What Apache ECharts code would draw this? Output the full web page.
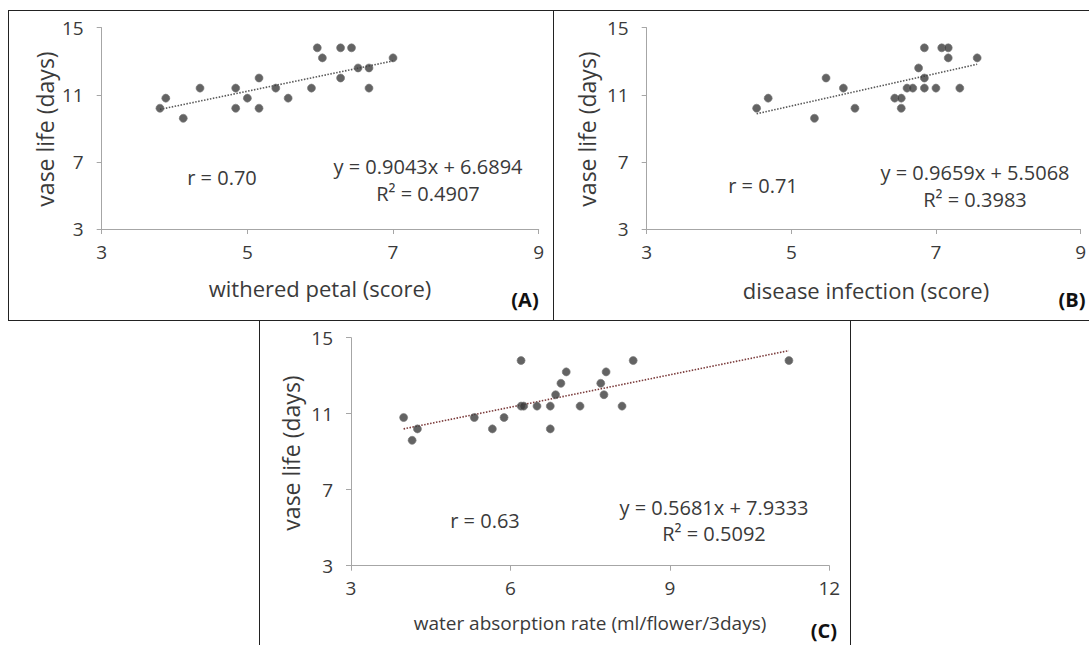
<!DOCTYPE html>
<html>
<head>
<meta charset="utf-8">
<script src="https://cdn.jsdelivr.net/npm/echarts@6/dist/echarts.min.js"></script>
<style>
html,body{margin:0;padding:0;background:#fff;}
#c{width:1089px;height:645px;}
</style>
</head>
<body>
<div id="c"></div>
<script>
// ---- Data ----
// Panel A: withered petal (score) vs vase life (days)
const aX = [3.80,3.88,4.12,4.35,4.84,4.84,5.00,5.16,5.16,5.39,5.56,5.88,5.96,6.03,6.28,6.28,6.43,6.52,6.67,6.67,7.00];
const aY = [10.2,10.8,9.6,11.4,11.4,10.2,10.8,12.0,10.2,11.4,10.8,11.4,13.8,13.2,13.8,12.0,13.8,12.6,12.6,11.4,13.2];
const aTrendX = [3.80, 7.00];
const aTrendY = [10.13, 13.02];
// Panel B: disease infection (score) vs vase life (days)
const bX = [4.52,4.68,5.32,5.48,5.72,5.88,6.43,6.52,6.52,6.60,6.68,6.76,6.84,6.84,6.84,7.00,7.08,7.17,7.17,7.33,7.57];
const bY = [10.2,10.8,9.6,12.0,11.4,10.2,10.8,10.8,10.2,11.4,11.4,12.6,13.8,12.0,11.4,11.4,13.8,13.8,13.2,11.4,13.2];
const bTrendX = [4.52, 7.57];
const bTrendY = [9.87, 12.82];
// Panel C: water absorption rate vs vase life (days)
const cX = [3.99,4.25,4.15,5.32,5.66,5.88,6.20,6.20,6.25,6.50,6.75,6.75,6.85,6.95,7.05,7.31,7.70,7.76,7.80,8.10,8.31,11.24];
const cY = [10.8,10.2,9.6,10.8,10.2,10.8,13.8,11.4,11.4,11.4,11.4,10.2,12.0,12.6,13.2,11.4,12.6,12.0,13.2,11.4,13.8,13.8];
const cTrendX = [3.99, 11.24];
const cTrendY = [10.20, 14.32];

const yTicks = [3, 7, 11, 15];
const abXTicks = [3, 5, 7, 9];
const cXTicks = [3, 6, 9, 12];

const texts = {
  yName: 'vase life (days)',
  aXName: 'withered petal (score)',
  bXName: 'disease infection (score)',
  cXName: 'water absorption rate (ml/flower/3days)',
  aR: 'r = 0.70', aEq: 'y = 0.9043x + 6.6894', aR2: 'R² = 0.4907',
  bR: 'r = 0.71', bEq: 'y = 0.9659x + 5.5068', bR2: 'R² = 0.3983',
  cR: 'r = 0.63', cEq: 'y = 0.5681x + 7.9333', cR2: 'R² = 0.5092',
  aTag: '(A)', bTag: '(B)', cTag: '(C)'
};

// ---- Build chart ----
const FONT = '"Open Sans", "Noto Sans", sans-serif';
const TXT = '#3a3a3a';
const AX = '#a6a6a6';
const zip = (xs, ys) => xs.map((x, i) => [x, ys[i]]);

function xAxis(gi, ticks) {
  return {
    type: 'value', gridIndex: gi,
    min: ticks[0], max: ticks[ticks.length - 1], interval: ticks[1] - ticks[0],
    axisLine: {show: true, onZero: false, lineStyle: {color: AX, width: 1}},
    axisTick: {show: true, length: 5, lineStyle: {color: AX}},
    axisLabel: {color: TXT, fontSize: 19, fontFamily: FONT, margin: 13},
    splitLine: {show: false}
  };
}
function yAxis(gi) {
  return {
    type: 'value', gridIndex: gi,
    min: yTicks[0], max: yTicks[yTicks.length - 1], interval: yTicks[1] - yTicks[0],
    axisLine: {show: true, onZero: false, lineStyle: {color: AX, width: 1}},
    axisTick: {show: true, length: 5, lineStyle: {color: AX}},
    axisLabel: {color: TXT, fontSize: 19, fontFamily: FONT, margin: 18},
    splitLine: {show: false}
  };
}
function scatter(i, xs, ys) {
  return {
    type: 'scatter', xAxisIndex: i, yAxisIndex: i, data: zip(xs, ys),
    symbolSize: 8,
    itemStyle: {color: '#3c3c3c', borderColor: '#777', borderWidth: 0.8},
    z: 3
  };
}
function trend(i, xs, ys, color) {
  return {
    type: 'line', xAxisIndex: i, yAxisIndex: i, data: zip(xs, ys),
    symbol: 'none', silent: true,
    lineStyle: {color: color, width: 1.6, type: [1.5, 1.5]},
    z: 2
  };
}
function t(x, y, text, size, opts) {
  return Object.assign({
    type: 'text', x: x, y: y,
    style: Object.assign({
      text: text, fill: TXT, font: (opts && opts.bold ? 'bold ' : '') + size + 'px ' + FONT,
      textAlign: 'center', textVerticalAlign: 'middle'
    }, (opts && opts.style) || {})
  }, (opts && opts.el) || {});
}
function ln(x1, y1, x2, y2) {
  return {type: 'line', shape: {x1: x1, y1: y1, x2: x2, y2: y2},
          style: {stroke: '#222', lineWidth: 1}, silent: true};
}

const chart = echarts.init(document.getElementById('c'), null, {renderer: 'svg'});
chart.setOption({
  animation: false,
  backgroundColor: '#fff',
  grid: [
    {left: 101.7, top: 27.7, width: 437, height: 201.3},
    {left: 646.7, top: 27.7, width: 440, height: 201.3},
    {left: 351, top: 337.7, width: 478.3, height: 228}
  ],
  xAxis: [xAxis(0, abXTicks), xAxis(1, abXTicks), xAxis(2, cXTicks)],
  yAxis: [yAxis(0), yAxis(1), yAxis(2)],
  series: [
    trend(0, aTrendX, aTrendY, '#595959'), scatter(0, aX, aY),
    trend(1, bTrendX, bTrendY, '#595959'), scatter(1, bX, bY),
    trend(2, cTrendX, cTrendY, '#7b3b3b'), scatter(2, cX, cY)
  ],
  graphic: [
    // frames
    ln(8, 10.5, 1089, 10.5),
    ln(8.5, 10, 8.5, 320),
    ln(553.5, 10, 553.5, 320),
    ln(8, 320.5, 1089, 320.5),
    ln(259.5, 320, 259.5, 645),
    ln(850.5, 320, 850.5, 645),
    // Panel A texts
    t(45, 129, texts.yName, 23, {el: {rotation: Math.PI / 2}}),
    t(320, 288, texts.aXName, 22),
    t(222, 177, texts.aR, 20),
    t(428, 166, texts.aEq, 20),
    t(428, 193, texts.aR2, 20),
    t(525, 299, texts.aTag, 20, {bold: true, style: {fill: '#111'}}),
    // Panel B texts
    t(587, 129, texts.yName, 23, {el: {rotation: Math.PI / 2}}),
    t(866, 290, texts.bXName, 22),
    t(763, 185, texts.bR, 20),
    t(975, 172, texts.bEq, 20),
    t(975, 199, texts.bR2, 20),
    t(1072, 299, texts.bTag, 20, {bold: true, style: {fill: '#111'}}),
    // Panel C texts
    t(291, 453, texts.yName, 23, {el: {rotation: Math.PI / 2}}),
    t(590, 623, texts.cXName, 19),
    t(485, 520, texts.cR, 20),
    t(714, 507, texts.cEq, 20),
    t(714, 533, texts.cR2, 20),
    t(824, 630, texts.cTag, 20, {bold: true, style: {fill: '#111'}})
  ]
});
</script>
</body>
</html>
